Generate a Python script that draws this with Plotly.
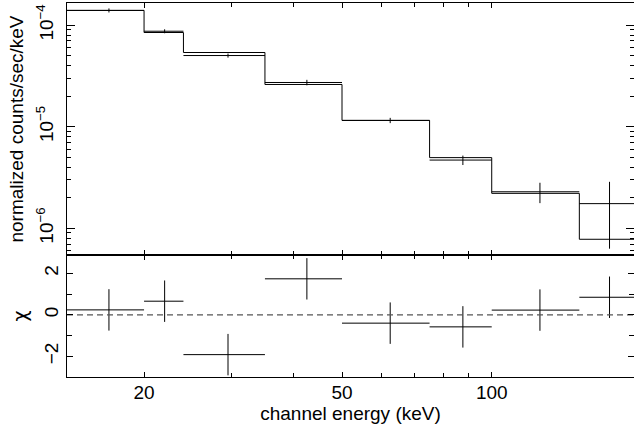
import numpy as np
import plotly.graph_objects as go

# ---- data ----
bin_lo = [14, 20, 24, 35, 50, 75, 100, 150]
bin_hi = [20, 24, 35, 50, 75, 100, 150, 195]
data_rate = [1.40e-4, 8.73e-5, 5.03e-5, 2.73e-5, 1.155e-5, 4.70e-6, 2.29e-6, 1.75e-6]
data_err = [6.4e-6, 3.9e-6, 2.3e-6, 1.7e-6, 0.69e-6, 0.50e-6, 0.52e-6, 1.12e-6]
model_rate = [1.40e-4, 8.48e-5, 5.39e-5, 2.61e-5, 1.155e-5, 4.97e-6, 2.21e-6, 7.80e-7]
chi = [0.24, 0.66, -1.92, 1.74, -0.40, -0.58, 0.23, 0.85]
chi_err = [1, 1, 1, 1, 1, 1, 1, 1]

x_tickvals = [20, 50, 100]
x_ticktext = ["20", "50", "100"]
y_tickvals = [1e-6, 1e-5, 1e-4]
y_ticktext = ["10<sup>\u22126</sup>", "10<sup>\u22125</sup>", "10<sup>\u22124</sup>"]
chi_tickvals = [-2, 0, 2]
chi_ticktext = ["\u22122", "0", "2"]

x_range = [14.0, 193.2]
y_range = [5.46e-7, 1.656e-4]
chi_range = [-3.0, 2.89]

# ---- derived ----
lo = np.array(bin_lo, float)
hi = np.array(bin_hi, float)
cen = (lo + hi) / 2
half = (hi - lo) / 2

x_minor = [30, 40, 60, 70, 80, 90]
y_minor = [m * 10.0 ** d for d in range(-7, -3) for m in range(2, 10)
           if y_range[0] <= m * 10.0 ** d <= y_range[1]]
chi_minor = [-3, -1, 1]

FONT = "Liberation Sans"
BLACK = "black"

fig = go.Figure()

# model histogram (top)
step_x = list(lo) + [hi[-1]]
step_y = list(model_rate) + [model_rate[-1]]
fig.add_trace(go.Scatter(x=step_x, y=step_y, mode="lines", line=dict(color=BLACK, width=1, shape="hv"),
                         xaxis="x2", yaxis="y2", hoverinfo="skip"))
# data crosses (top)
fig.add_trace(go.Scatter(x=cen, y=data_rate, mode="markers",
                         marker=dict(size=1, color="rgba(0,0,0,0)"),
                         error_x=dict(type="data", array=half, color=BLACK, thickness=1, width=0),
                         error_y=dict(type="data", array=data_err, color=BLACK, thickness=1, width=0),
                         xaxis="x2", yaxis="y2"))
# residual crosses (bottom)
fig.add_trace(go.Scatter(x=cen, y=chi, mode="markers",
                         marker=dict(size=1, color="rgba(0,0,0,0)"),
                         error_x=dict(type="data", array=half, color=BLACK, thickness=1, width=0),
                         error_y=dict(type="data", array=chi_err, color=BLACK, thickness=1, width=0),
                         xaxis="x", yaxis="y"))
# zero line
fig.add_trace(go.Scatter(x=x_range, y=[0, 0], mode="lines",
                         line=dict(color="#555555", width=1.4, dash="6px,4px"),
                         xaxis="x", yaxis="y", hoverinfo="skip"))
# invisible traces for right-hand tick axes
fig.add_trace(go.Scatter(x=x_range, y=y_range, mode="markers", marker=dict(size=1, color="rgba(0,0,0,0)"),
                         xaxis="x2", yaxis="y3", hoverinfo="skip"))
fig.add_trace(go.Scatter(x=x_range, y=chi_range, mode="markers", marker=dict(size=1, color="rgba(0,0,0,0)"),
                         xaxis="x", yaxis="y4", hoverinfo="skip"))

split = 122 / 374

xcommon = dict(type="log", range=[np.log10(x_range[0]), np.log10(x_range[1])],
               showline=True, linecolor=BLACK, linewidth=1, mirror="ticks",
               ticks="inside", ticklen=5, tickwidth=1, tickcolor=BLACK,
               tickvals=x_tickvals, ticktext=x_ticktext,
               minor=dict(tickvals=x_minor, ticks="inside", ticklen=4, tickwidth=1, tickcolor=BLACK, showgrid=False),
               showgrid=False, zeroline=False)

fig.update_layout(
    width=634, height=428,
    margin=dict(l=67, r=0, t=3, b=51),
    paper_bgcolor="white", plot_bgcolor="white",
    showlegend=False,
    font=dict(family=FONT, size=19, color=BLACK),
    xaxis=dict(**xcommon, anchor="y", domain=[0, 1],
               tickfont=dict(size=19), ticklabelstandoff=-2,
               title=dict(text="channel energy (keV)", font=dict(size=19), standoff=1)),
    xaxis2=dict(**xcommon, anchor="y2", domain=[0, 1], matches="x", showticklabels=False),
    yaxis=dict(domain=[0, split], anchor="x", range=chi_range,
               showline=True, linecolor=BLACK, linewidth=1,
               ticks="inside", ticklen=6, tickwidth=1, tickcolor=BLACK,
               tickvals=chi_tickvals, ticktext=chi_ticktext, tickangle=-90,
               tickfont=dict(size=19), ticklabelstandoff=0,
               minor=dict(tickvals=chi_minor, ticks="inside", ticklen=5, tickwidth=1, tickcolor=BLACK, showgrid=False),
               showgrid=False, zeroline=False,
               title=dict(text="\u03c7", font=dict(family="DejaVu Sans", size=19), standoff=8)),
    yaxis2=dict(domain=[split, 1], anchor="x2", type="log",
                range=[np.log10(y_range[0]), np.log10(y_range[1])],
                showline=True, linecolor=BLACK, linewidth=1,
                ticks="inside", ticklen=8, tickwidth=1, tickcolor=BLACK,
                tickvals=y_tickvals, ticktext=y_ticktext, tickangle=-90,
                tickfont=dict(size=19), ticklabelstandoff=5,
                minor=dict(tickvals=y_minor, ticks="inside", ticklen=4, tickwidth=1, tickcolor=BLACK, showgrid=False),
                showgrid=False, zeroline=False,
                title=dict(text="normalized counts/sec/keV", font=dict(size=19), standoff=4)),
    yaxis3=dict(domain=[split, 1], anchor="x2", overlaying="y2", side="right", type="log",
                range=[np.log10(y_range[0]), np.log10(y_range[1])],
                showline=False, ticks="inside", ticklen=8, tickwidth=1, tickcolor=BLACK,
                tickvals=y_tickvals, showticklabels=False,
                minor=dict(tickvals=y_minor, ticks="inside", ticklen=4, tickwidth=1, tickcolor=BLACK, showgrid=False),
                showgrid=False, zeroline=False),
    yaxis4=dict(domain=[0, split], anchor="x", overlaying="y", side="right",
                range=chi_range,
                showline=False, ticks="inside", ticklen=6, tickwidth=1, tickcolor=BLACK,
                tickvals=chi_tickvals, showticklabels=False,
                minor=dict(tickvals=chi_minor, ticks="inside", ticklen=5, tickwidth=1, tickcolor=BLACK, showgrid=False),
                showgrid=False, zeroline=False),
)

fig.write_html("out.html", config={"displayModeBar": False},
               post_script="document.body.style.margin='0px';document.body.style.overflow='hidden';")
